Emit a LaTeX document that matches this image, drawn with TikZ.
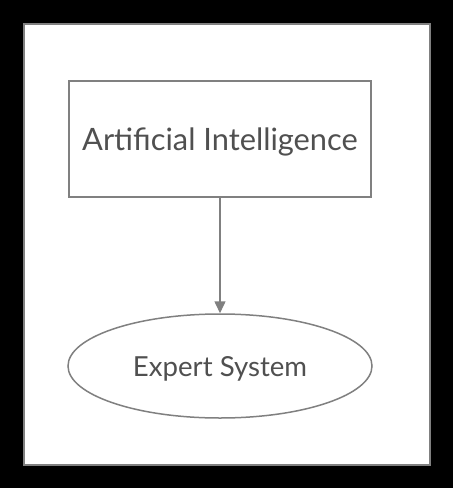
\documentclass[tikz,border=0pt]{standalone}
\usepackage{fontspec}
\setmainfont{Lato}
\usetikzlibrary{shapes.geometric,arrows.meta}
\definecolor{linegray}{HTML}{808080}
\definecolor{txtgray}{HTML}{505050}
\tikzset{
  boxnode/.style={draw=linegray,line width=1.5pt,fill=white,minimum width=302pt,minimum height=116pt,inner sep=0pt,text depth=0pt,text=txtgray,font=\fontsize{30.8}{34}\selectfont},
  ellnode/.style={ellipse,draw=linegray,line width=1.5pt,fill=white,minimum width=304pt,minimum height=104pt,inner sep=0pt,text depth=0pt,text=txtgray,font=\fontsize{27.6}{32}\selectfont},
  conn/.style={draw=linegray,line width=1.5pt,-{Triangle[length=12pt,width=11pt]}}
}
\begin{document}
\begin{tikzpicture}[x=1pt,y=-1pt]
\useasboundingbox (0,0) rectangle (453,488);
\fill[black] (0,0) rectangle (453,488);
\draw[linegray,fill=white,line width=2pt] (23.5,23.5) rectangle (429.5,464.5);
\node[boxnode] (ai) at (220,139) {Artificial Intelligence};
\node[ellnode] (es) at (220,366) {Expert System};
\draw[conn] (ai.south) -- (es.north);
\end{tikzpicture}
\end{document}
